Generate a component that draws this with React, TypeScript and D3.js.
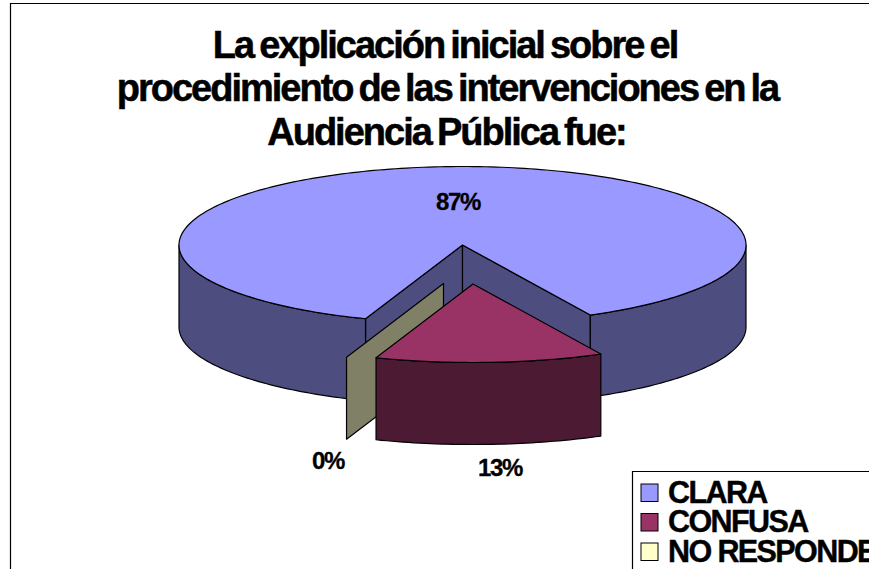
import React from "react";
import * as d3 from "d3";

const categories = ["CLARA", "CONFUSA", "NO RESPONDE"];
const values = [87, 13, 0];
const percentLabels = ["87%", "13%", "0%"];
const topColors = ["#9999ff", "#993366", "#ffffcc"];
const sideColors = ["#4d4d80", "#4d1a33", "#808066"];
const titleLines = [
  "La explicación inicial sobre el",
  "procedimiento de las intervenciones en la",
  "Audiencia Pública fue:",
];

const FONT = "'Liberation Sans', Arial, sans-serif";
const cx = 462.5, cy = 245, rx = 283.5, ry = 78.5, depth = 82;
const START = (200 * Math.PI) / 180;
const explode = [
  { dx: 0, dy: 0 },
  { dx: 10.5, dy: 39 },
  { dx: -19, dy: 38.5 },
];

const pieGen = d3.pie<number>().sort(null).startAngle(START).endAngle(START + 2 * Math.PI);
const arcs = pieGen(values);

type P = [number, number];
const pt = (a: number, ox = 0, oy = 0): P => [cx + ox + rx * Math.sin(a), cy + oy - ry * Math.cos(a)];
const samples = (a0: number, a1: number, ox = 0, oy = 0): P[] => {
  const n = Math.max(2, Math.ceil(Math.abs(a1 - a0) / 0.02));
  return d3.range(n + 1).map((i) => pt(a0 + ((a1 - a0) * i) / n, ox, oy));
};
const line = d3.line<P>();
const closed = (pts: P[]) => (line(pts) ?? "") + "Z";
const down = (pts: P[]): P[] => pts.map(([x, y]) => [x, y + depth] as P).reverse();

const topPath = (a0: number, a1: number, ox: number, oy: number) =>
  closed([[cx + ox, cy + oy], ...samples(a0, a1, ox, oy)]);
const sidePath = (a0: number, a1: number, ox: number, oy: number) => {
  const s = samples(a0, a1, ox, oy);
  return closed([...s, ...down(s)]);
};
const wallPath = (a: number, ox: number, oy: number) => {
  const s: P[] = [[cx + ox, cy + oy], pt(a, ox, oy)];
  return closed([...s, ...down(s)]);
};

export default function App() {
  const [clara, confusa, none] = arcs;
  const deg90 = Math.PI / 2;
  const stroke = { stroke: "#000", strokeWidth: 1.2, strokeLinejoin: "round" as const };
  return (
    <svg
      width={869}
      height={569}
      viewBox="0 0 869 569"
      style={{ position: "absolute", left: 0, top: 0, display: "block", background: "#fff" }}
    >
      <path d="M10.5 569V3.5H869" fill="none" stroke="#000" strokeWidth={1.2} />

      <g fontFamily={FONT} fontWeight="bold" fontSize={38} textAnchor="middle" letterSpacing={-2} wordSpacing={-2.5} fill="#000" stroke="#000" strokeWidth={0.5}>
        {titleLines.map((t, i) => (
          <text key={t} x={[445, 447.5, 446.5][i]} y={[58, 101, 145][i]}>
            {t}
          </text>
        ))}
      </g>

      <path d={wallPath(clara.startAngle, 0, 0)} fill={sideColors[0]} {...stroke} />
      <path d={wallPath(clara.endAngle, 0, 0)} fill={sideColors[0]} {...stroke} />
      <path d={sidePath(clara.startAngle, 3 * deg90, 0, 0)} fill={sideColors[0]} {...stroke} />
      <path d={sidePath(5 * deg90, clara.endAngle, 0, 0)} fill={sideColors[0]} {...stroke} />
      <path d={topPath(clara.startAngle, clara.endAngle, 0, 0)} fill={topColors[0]} {...stroke} />

      <path d={wallPath(none.startAngle, explode[2].dx, explode[2].dy)} fill={sideColors[2]} {...stroke} />

      <path d={sidePath(confusa.startAngle, confusa.endAngle, explode[1].dx, explode[1].dy)} fill={sideColors[1]} {...stroke} />
      <path d={topPath(confusa.startAngle, confusa.endAngle, explode[1].dx, explode[1].dy)} fill={topColors[1]} {...stroke} />

      <g fontFamily={FONT} fontWeight="bold" fontSize={24} textAnchor="middle" letterSpacing={-1.3} fill="#000" stroke="#000" strokeWidth={0.3}>
        {percentLabels.map((t, i) => (
          <text key={t} x={[458, 500, 328][i]} y={[210, 476, 469][i]}>
            {t}
          </text>
        ))}
      </g>

      <path d="M632.5 569V471.5H869" fill="#fff" stroke="#000" strokeWidth={1.2} />
      {categories.map((c, i) => {
        const y = 484 + i * 29.5;
        return (
          <g key={c}>
            <rect x={641} y={y} width={17} height={17.5} fill={topColors[i]} stroke="#000" strokeWidth={1} />
            <text x={668} y={y + 18.5} fontFamily={FONT} fontWeight="bold" fontSize={30.5} letterSpacing={-1.6} fill="#000" stroke="#000" strokeWidth={0.4}>
              {c}
            </text>
          </g>
        );
      })}
    </svg>
  );
}
